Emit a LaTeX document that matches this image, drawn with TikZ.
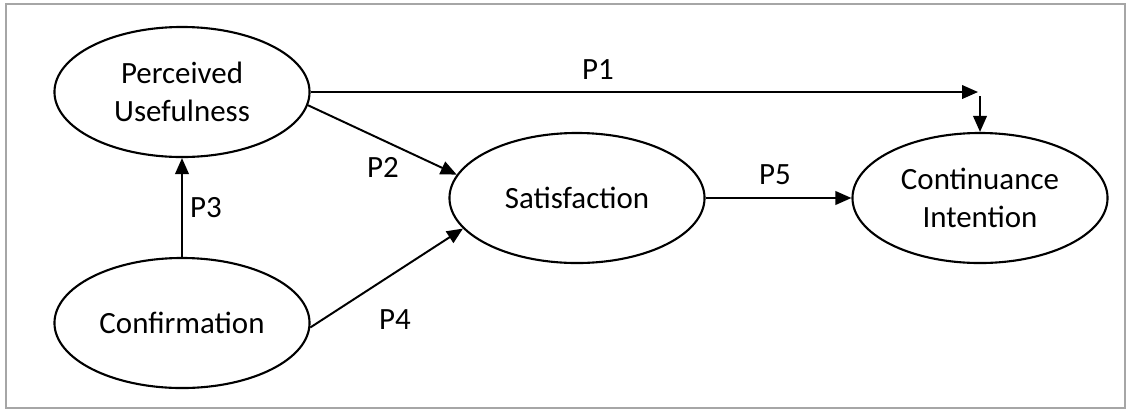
\documentclass[tikz,border=0pt]{standalone}
\usepackage{fontspec}
\setmainfont{Carlito}
\usetikzlibrary{shapes.geometric,arrows.meta}
\tikzset{
  construct/.style={ellipse, draw, line width=1.5pt, minimum width=6.375cm, minimum height=3.25cm, inner sep=0pt, align=center, font=\fontsize{22}{27.5}\selectfont},
  pathlabel/.style={font=\fontsize{22}{26}\selectfont},
  hypo/.style={line width=1.4pt, -{Triangle[length=0.4cm, width=0.34cm]}},
  frame/.style={draw=gray!70, line width=1.2pt}
}
\begin{document}
\begin{tikzpicture}[x=0.025cm, y=-0.025cm]
  \useasboundingbox (0,0) rectangle (1128,410);
  \draw[frame] (6,4) rectangle (1125,408);

  \node[construct] (pu) at (182,92) {Perceived\\Usefulness};
  \node[construct] (conf) at (182,323) {Confirmation};
  \node[construct] (sat) at (577,198) {Satisfaction};
  \node[construct] (cont) at (980,198) {Continuance\\Intention};

  \coordinate (p1end) at (978,92);
  \coordinate (p1drop) at (980,96);

  \draw[hypo] (pu.east) -- (p1end);
  \draw[hypo] (p1drop) -- (cont.north);
  \draw[hypo] (pu.-6) -- (sat.169);
  \draw[hypo] (conf.north) -- (pu.south);
  \draw[hypo] (conf.-2) -- (sat.195);
  \draw[hypo] (sat.east) -- (cont.west);

  \node[pathlabel] (p1) at (598,70) {P1};
  \node[pathlabel] (p2) at (383,167) {P2};
  \node[pathlabel] (p3) at (206,208) {P3};
  \node[pathlabel] (p4) at (395,320) {P4};
  \node[pathlabel] (p5) at (775,175) {P5};
\end{tikzpicture}
\end{document}
